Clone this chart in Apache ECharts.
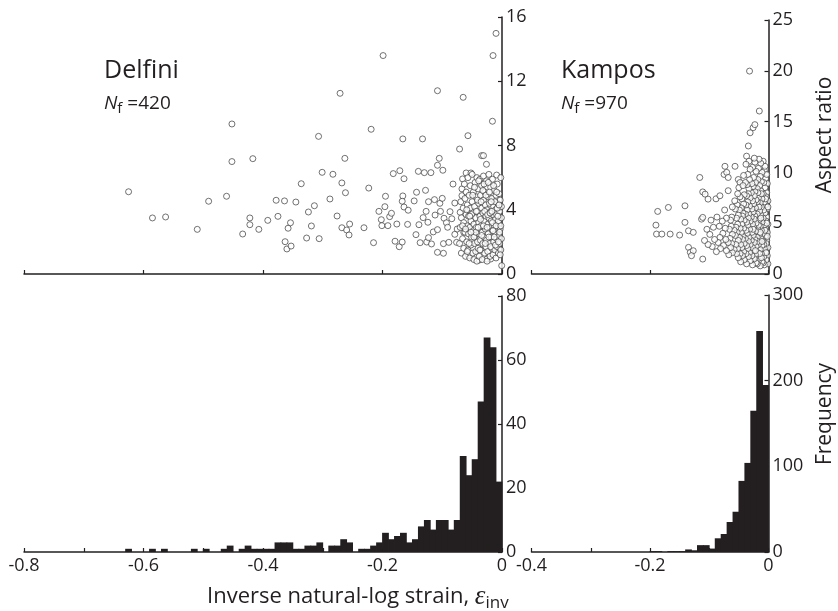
<!DOCTYPE html>
<html><head><meta charset="utf-8">
<script src="https://cdn.jsdelivr.net/npm/echarts@6/dist/echarts.min.js"></script>
<style>html,body{margin:0;padding:0;background:#fff}#c{width:838px;height:611px}</style>
</head><body><div id="c"></div><script>
// ---------- data ----------
const BIN_WIDTH = 0.01;
const delfiniBinStart = -0.8;
const kamposBinStart = -0.4;
const delfiniCounts = [
 0,0,0,0,0,0,0,0,0,0,
 0,0,0,0,0,0,0,1,0,0,
 0,1,0,1,0,0,0,0,1,0,
 1,0,0,1,2,0,1,2,1,1,
 1,1,3,3,3,1,1,2,2,3,
 0,2,2,4,3,0,1,1,2,3,
 6,4,5,6,3,4,8,10,7,10,
 10,7,10,30,24,29,47,67,64,22];
const kamposCounts = [
 0,0,0,0,0,0,0,0,0,0,
 0,0,0,0,0,0,0,0,0,0,
 1,1,0,1,1,1,3,2,8,8,
 4,16,21,35,47,83,104,165,258,195];

const delfiniSparse = [[-0.625,5.12],[-0.585,3.49],[-0.563,3.55],[-0.510,2.78],[-0.491,4.53],[-0.461,4.84],[-0.452,9.34],[-0.452,7.0],[-0.417,7.18],[-0.422,3.49],[-0.422,3.07],[-0.434,2.49],[-0.407,2.78],[-0.378,4.59],[-0.375,3.59],[-0.392,3.34],
[-0.364,4.55],[-0.358,2.85],[-0.354,3.19],[-0.363,2.01],[-0.360,1.56],[-0.353,1.74],[-0.345,4.48],[-0.336,5.62],[-0.327,2.24],[-0.324,3.86],[-0.319,2.99],[-0.314,4.25],[-0.307,8.57],[-0.306,2.2],[-0.301,6.33],[-0.288,4.67],[-0.283,6.21],[-0.276,3.61],[-0.271,11.25],[-0.268,5.67],[-0.268,2.88],[-0.263,7.2],[-0.262,5.06],[-0.260,2.74],[-0.256,2.43],[-0.255,3.11],[-0.231,2.88],[-0.223,5.35],[-0.219,9.01],[-0.215,1.95],[-0.206,3.9],[-0.202,3.38],[-0.201,3.01],[-0.199,13.6],[-0.196,4.19],[-0.195,4.84],[-0.191,3.01],[-0.188,3.57],[-0.185,3.78],[-0.182,6.25],[-0.179,2.04],[-0.176,3.11],[-0.172,1.7],[-0.171,6.43],[-0.167,1.99],[-0.166,4.86],[-0.166,8.41],[-0.164,5.93],[-0.167,4.53],[-0.164,4.17],[-0.157,3.97],[-0.158,3.09],[-0.147,4.55],[-0.144,2.45],[-0.143,5.09],[-0.140,6.39],[-0.139,3.07],[-0.137,1.95],[-0.133,8.41],[-0.132,3.51],[-0.130,6.31],[-0.128,5.21],[-0.127,3.9],[-0.126,1.99],[-0.124,3.22],[-0.123,4.5],[-0.123,2.26],[-0.119,6.31],[-0.118,1.87],[-0.115,2.62],[-0.113,4.63],[-0.112,3.67],[-0.108,11.41],[-0.108,6.77],[-0.108,2.76],[-0.108,1.35],[-0.105,7.2],[-0.104,4.4],[-0.103,3.9],[-0.100,4.71],[-0.099,6.46],[-0.098,1.89],[-0.098,1.29],[-0.097,3.47],[-0.093,3.19],[-0.091,2.91],[-0.089,1.97],[-0.087,3.88],[-0.084,3.44],[-0.082,5.6],[-0.079,4.42],[-0.079,2.47],[-0.076,1.97],[-0.075,2.8],[-0.071,7.78],[-0.070,3.84],[-0.067,4.88],[-0.066,5.92],[-0.065,11.0],[-0.064,2.6],[-0.060,6.29],[-0.057,8.61],[-0.056,1.14],[-0.052,6.29],[-0.038,0.87],[-0.034,7.37],[-0.031,7.37],[-0.026,6.83],[-0.025,0.93],[-0.019,0.93],[-0.016,9.51],[-0.015,13.6],[-0.010,14.98],[-0.009,6.16],[-0.0005,0.52]];

const delfiniCluster = [[-.071,1.9],[-.070,2.9],[-.069,4.5],[-.068,1.3],[-.068,3.5],[-.067,5.3],[-.066,2.2],[-.065,4.1],[-.064,1.6],[-.064,3.2],[-.063,5.6],[-.062,2.6],[-.062,4.7],[-.061,1.1],[-.060,3.7],[-.060,5.1],[-.059,2.0],[-.058,3.0],[-.058,4.3],[-.057,1.5],[-.057,6.0],[-.056,2.5],[-.056,3.6],[-.055,4.9],[-.054,1.0],[-.054,2.9],[-.053,4.1],[-.053,5.5],[-.052,1.8],[-.052,3.3],[-.051,2.3],[-.050,4.5],[-.050,6.2],[-.049,1.3],[-.049,3.8],[-.048,2.7],[-.048,5.1],[-.047,0.9],[-.047,3.1],[-.046,1.9],[-.046,4.2],[-.045,5.7],[-.045,2.4],[-.044,3.5],[-.044,1.4],[-.043,4.8],[-.043,2.9],[-.042,6.0],[-.042,0.8],[-.041,2.0],[-.041,3.9],[-.040,5.3],[-.040,1.6],[-.039,3.2],[-.039,4.4],[-.038,2.5],[-.038,1.1],[-.037,5.9],[-.037,3.6],[-.036,2.1],[-.036,4.9],[-.035,1.5],[-.035,3.0],[-.034,4.1],[-.034,5.5],[-.033,2.6],[-.033,0.9],[-.032,3.8],[-.032,1.9],[-.031,4.6],[-.031,6.1],[-.030,2.3],[-.030,3.3],[-.029,1.3],[-.029,5.1],[-.028,2.8],[-.028,4.3],[-.027,1.7],[-.027,3.6],[-.026,5.8],[-.026,2.1],[-.025,4.0],[-.025,0.8],[-.024,3.1],[-.024,1.4],[-.023,4.8],[-.023,2.5],[-.022,3.5],[-.022,6.2],[-.021,1.9],[-.021,4.4],[-.020,2.9],[-.020,1.1],[-.019,5.4],[-.019,3.9],[-.018,2.3],[-.018,3.3],[-.017,1.6],[-.017,4.7],[-.016,2.7],[-.016,5.9],[-.015,1.2],[-.015,3.7],[-.014,4.2],[-.014,2.0],[-.013,3.0],[-.013,5.2],[-.012,1.5],[-.012,2.5],[-.011,4.0],[-.011,3.4],[-.010,1.0],[-.010,4.9],[-.009,2.2],[-.009,3.7],[-.008,5.6],[-.008,1.7],[-.007,2.9],[-.007,4.4],[-.006,1.3],[-.006,3.3],[-.005,2.4],[-.005,5.0],[-.004,3.9],[-.004,1.9],[-.003,4.6],[-.003,2.8],[-.002,6.0],[-.002,1.5],[-.001,3.5],[-.001,2.2],[-.001,4.2],
[-.066,3.0],[-.061,2.8],[-.059,4.0],[-.055,1.9],[-.051,3.7],[-.047,2.3],[-.044,2.6],[-.040,2.9],[-.037,1.5],[-.034,2.4],[-.031,3.0],[-.028,1.9],[-.025,2.9],[-.022,2.3],[-.019,1.7],[-.016,3.2],[-.013,2.3],[-.010,3.0],[-.007,3.6],[-.004,2.6],[-.002,3.0],[-.052,2.6],[-.043,3.9],[-.036,3.4],[-.029,3.9],[-.024,3.7],[-.020,3.8],[-.015,2.7],[-.011,1.8],[-.006,2.0],[-.003,1.2],[-.058,1.4],[-.049,4.9],[-.039,5.8],[-.032,5.2],[-.027,4.9],[-.021,5.1],[-.017,3.9],[-.012,4.5],[-.008,4.1],[-.054,3.6],[-.046,5.4],[-.041,4.6],[-.035,4.5],[-.030,5.6],[-.023,5.7],[-.018,4.5],[-.014,5.5],[-.009,5.1],[-.005,4.3]];

const kamposSparse = [[-0.190,4.81],[-0.187,6.16],[-0.169,6.55],[-0.189,3.93],[-0.180,3.93],[-0.166,3.93],[-0.150,3.83],[-0.141,6.71],[-0.141,5.08],[-0.135,4.25],[-0.127,4.1],[-0.135,2.62],[-0.132,2.13],[-0.127,2.29],[-0.130,1.8],[-0.116,9.5],[-0.113,5.4],[-0.111,5.57],[-0.111,8.08],[-0.107,7.86],[-0.102,7.37],[-0.111,1.47],[-0.0886,7.4],[-0.082,7.7],[-0.0735,10.6],[-0.075,9.8],[-0.0705,10.0],[-0.068,9.5],[-0.0565,10.6],[-0.068,8.2],[-0.051,9.3],[-0.048,9.0],[-0.050,8.5],[-0.032,19.97],[-0.0155,16.04],[-0.026,14.4],[-0.023,14.7],[-0.031,13.9],[-0.034,12.6],[-0.037,11.6]];

const kamposCluster = [
[-.001,1.0],[-.002,1.8],[-.001,2.6],[-.003,3.3],[-.002,4.1],[-.001,4.9],[-.003,5.6],[-.002,6.4],[-.001,7.2],[-.003,8.0],[-.002,8.9],[-.004,1.4],[-.005,2.2],[-.004,3.0],[-.006,3.7],[-.005,4.5],[-.004,5.2],[-.006,6.0],[-.005,6.8],[-.004,7.6],[-.006,8.5],[-.005,9.4],[-.007,0.9],[-.008,1.7],[-.007,2.5],[-.009,3.2],[-.008,4.0],[-.007,4.8],[-.009,5.5],[-.008,6.3],[-.007,7.1],[-.009,7.9],[-.008,9.0],[-.007,10.2],[-.009,11.1],[-.003,9.8],[-.006,10.6],[-.001,6.6],[-.004,2.1],[-.008,2.9],[-.002,3.7],[-.006,4.3],[-.009,1.1],[-.003,5.0],[-.005,7.4],
[-.011,1.2],[-.012,2.0],[-.011,2.8],[-.013,3.5],[-.012,4.3],[-.011,5.1],[-.013,5.8],[-.012,6.6],[-.011,7.4],[-.013,8.2],[-.012,9.1],[-.011,10.0],[-.013,10.9],[-.014,0.8],[-.015,1.6],[-.014,2.4],[-.016,3.1],[-.015,3.9],[-.014,4.7],[-.016,5.4],[-.015,6.2],[-.014,7.0],[-.016,7.8],[-.015,8.7],[-.014,9.6],[-.016,11.3],[-.017,1.3],[-.018,2.1],[-.017,2.9],[-.019,3.6],[-.018,4.4],[-.017,5.2],[-.019,5.9],[-.018,6.7],[-.017,7.5],[-.019,8.4],[-.018,9.3],[-.017,10.4],[-.019,1.0],[-.012,1.6],[-.015,2.0],[-.018,3.2],[-.011,3.2],[-.014,4.1],[-.017,4.8],[-.013,5.5],[-.016,6.6],[-.019,7.1],[-.012,7.9],[-.018,8.0],
[-.021,1.1],[-.022,1.9],[-.021,2.7],[-.023,3.4],[-.022,4.2],[-.021,5.0],[-.023,5.7],[-.022,6.5],[-.021,7.3],[-.023,8.1],[-.022,9.0],[-.021,10.1],[-.023,11.0],[-.024,1.5],[-.025,2.3],[-.024,3.1],[-.026,3.8],[-.025,4.6],[-.024,5.4],[-.026,6.1],[-.025,6.9],[-.024,7.7],[-.026,8.6],[-.025,9.5],[-.024,11.4],[-.027,0.9],[-.028,1.8],[-.027,2.6],[-.029,3.3],[-.028,4.1],[-.027,4.9],[-.029,5.6],[-.028,6.4],[-.027,7.2],[-.029,8.0],[-.028,8.9],[-.027,10.5],[-.022,2.3],[-.026,4.4],
[-.031,1.3],[-.032,2.1],[-.031,2.9],[-.033,3.6],[-.032,4.4],[-.031,5.2],[-.033,5.9],[-.032,6.7],[-.031,7.5],[-.033,8.4],[-.032,9.3],[-.031,10.3],[-.033,11.1],[-.034,1.7],[-.035,2.5],[-.034,3.2],[-.036,4.0],[-.035,4.8],[-.034,5.5],[-.036,6.3],[-.035,7.1],[-.034,7.9],[-.036,8.8],[-.035,9.8],[-.037,1.0],[-.038,2.0],[-.037,2.8],[-.039,3.5],[-.038,4.3],[-.037,5.1],[-.039,5.9],[-.038,6.8],[-.037,7.7],[-.039,9.0],[-.038,10.8],
[-.041,1.4],[-.042,2.2],[-.041,3.0],[-.043,3.7],[-.042,4.5],[-.041,5.3],[-.043,6.0],[-.042,6.9],[-.041,7.8],[-.043,8.7],[-.042,9.7],[-.044,1.8],[-.045,2.6],[-.044,3.4],[-.046,4.1],[-.045,4.9],[-.044,5.7],[-.046,6.5],[-.045,7.4],[-.047,1.2],[-.048,2.0],[-.047,2.9],[-.049,3.6],[-.048,4.5],[-.047,5.4],[-.049,6.3],[-.048,7.6],
[-.051,1.6],[-.052,2.5],[-.051,3.3],[-.053,4.1],[-.052,4.9],[-.051,5.8],[-.053,6.8],[-.052,7.9],[-.054,2.0],[-.055,2.9],[-.056,3.8],[-.055,4.6],[-.054,5.5],[-.056,6.4],[-.058,2.4],[-.058,4.3],[-.057,7.2],
[-.061,2.1],[-.062,3.0],[-.061,3.9],[-.063,4.7],[-.062,5.6],[-.061,6.6],[-.064,2.6],[-.065,3.5],[-.066,4.4],[-.064,5.3],[-.067,1.9],[-.068,3.1],
[-.071,2.3],[-.072,3.4],[-.073,4.5],[-.071,5.5],[-.074,6.3],[-.076,2.8],[-.077,4.0],[-.078,5.2],
[-.081,2.5],[-.082,3.6],[-.083,4.7],[-.085,3.1],[-.087,5.6],[-.088,2.2],
[-.091,3.4],[-.093,4.6],[-.095,2.7],[-.097,5.3],[-.099,3.9],[-.102,2.9],[-.104,4.4],[-.108,3.3]];

const delfiniXLabels = [-0.8,-0.6,-0.4,-0.2,0];
const kamposXLabels = [-0.4,-0.2,0];

// ---------- chart ----------
const INK = '#231f20';
const FONT = '"Open Sans", "Noto Sans", sans-serif';

function bins(start, counts){
  return counts.map((c,i)=>[+(start+i*BIN_WIDTH).toFixed(3), +(start+(i+1)*BIN_WIDTH).toFixed(3), c]);
}
function histItem(params, api){
  const c = api.value(2);
  if (!c) return null;
  const p0 = api.coord([api.value(0), c]);
  const p1 = api.coord([api.value(1), 0]);
  return {type:'rect', shape:{x:p0[0]-0.4, y:p0[1], width:p1[0]-p0[0]+0.8, height:p1[1]-p0[1]},
    style:{fill:INK, stroke:null}};
}
function xFmt(list){
  return function(v){
    const hit = list.some(t=>Math.abs(t-v)<1e-6);
    if(!hit) return '';
    return Math.abs(v)<1e-9 ? '0' : v.toFixed(1);
  };
}
const axisLine = {show:true, onZero:false, lineStyle:{color:INK, width:1.5}};
const axisTick = {show:true, inside:true, length:4, lineStyle:{color:INK, width:1.2}};
const lbl = {color:INK, fontSize:18, fontFamily:FONT};

function xAx(gi, min, interval, labels){
  return {gridIndex:gi, type:'value', min:min, max:0, interval:interval, position:'bottom',
    axisLine:axisLine, axisTick:axisTick, splitLine:{show:false},
    axisLabel: labels ? Object.assign({margin:5, formatter:xFmt(labels), showMinLabel:true, showMaxLabel:true}, lbl) : {show:false}};
}
function yAx(gi, max, interval){
  return {gridIndex:gi, type:'value', min:0, max:max, interval:interval, position:'right',
    axisLine:axisLine, axisTick:axisTick, splitLine:{show:false},
    axisLabel: Object.assign({margin:4, showMinLabel:true, showMaxLabel:true}, lbl)};
}
const scatterStyle = {color:'#ffffff', borderColor:'#3c3c3c', borderWidth:0.9};

const option = {
  animation:false,
  backgroundColor:'#ffffff',
  textStyle:{fontFamily:FONT},
  grid:[
    {left:24, top:17, width:478, height:257, outerBoundsMode:'none'},
    {left:531.5, top:20, width:237, height:254, outerBoundsMode:'none'},
    {left:24, top:296, width:478, height:256, outerBoundsMode:'none'},
    {left:531.5, top:295, width:237, height:257, outerBoundsMode:'none'}
  ],
  xAxis:[ xAx(0,-0.8,0.2,null), xAx(1,-0.4,0.2,null), xAx(2,-0.8,0.1,delfiniXLabels), xAx(3,-0.4,0.1,kamposXLabels) ],
  yAxis:[ yAx(0,16,4), yAx(1,25,5), yAx(2,80,20), yAx(3,300,100) ],
  series:[
    {type:'scatter', xAxisIndex:0, yAxisIndex:0, data:delfiniSparse.concat(delfiniCluster), symbol:'circle', symbolSize:6, itemStyle:scatterStyle, silent:true},
    {type:'scatter', xAxisIndex:1, yAxisIndex:1, data:kamposSparse.concat(kamposCluster), symbol:'circle', symbolSize:6, itemStyle:scatterStyle, silent:true},
    {type:'custom', xAxisIndex:2, yAxisIndex:2, data:bins(delfiniBinStart, delfiniCounts), renderItem:histItem, encode:{x:[0,1], y:2}, silent:true},
    {type:'custom', xAxisIndex:3, yAxisIndex:3, data:bins(kamposBinStart, kamposCounts), renderItem:histItem, encode:{x:[0,1], y:2}, silent:true}
  ],
  graphic:[
    {type:'text', left:104, top:58, style:{text:'Delfini', fill:INK, font:'25px '+FONT}},
    {type:'text', left:104, top:94, style:{text:'{n|N}{f|f}{t| =420}', fill:INK,
      rich:{n:{fontSize:19, fontStyle:'italic', fontFamily:FONT, lineHeight:26, fill:INK},
            f:{fontSize:15, fontFamily:FONT, lineHeight:16, verticalAlign:'bottom', fill:INK},
            t:{fontSize:19, fontFamily:FONT, lineHeight:26, fill:INK}}}},
    {type:'text', left:561, top:58, style:{text:'Kampos', fill:INK, font:'25px '+FONT}},
    {type:'text', left:561, top:94, style:{text:'{n|N}{f|f}{t| =970}', fill:INK,
      rich:{n:{fontSize:19, fontStyle:'italic', fontFamily:FONT, lineHeight:26, fill:INK},
            f:{fontSize:15, fontFamily:FONT, lineHeight:16, verticalAlign:'bottom', fill:INK},
            t:{fontSize:19, fontFamily:FONT, lineHeight:26, fill:INK}}}},
    {type:'text', x:825, y:135, rotation:Math.PI/2, style:{text:'Aspect ratio', fill:INK, font:'21px '+FONT, align:'center', verticalAlign:'middle'}},
    {type:'text', x:825, y:414, rotation:Math.PI/2, style:{text:'Frequency', fill:INK, font:'21px '+FONT, align:'center', verticalAlign:'middle'}},
    {type:'text', x:207, y:597, style:{text:'{a|Inverse natural-log strain, }{e|ε}{s|inv}', align:'left', verticalAlign:'middle', fill:INK,
      rich:{a:{fontSize:22, fontFamily:FONT, lineHeight:30, fill:INK},
            e:{fontSize:27, fontFamily:'"Liberation Serif", serif', fontStyle:'italic', lineHeight:30, fill:INK},
            s:{fontSize:17, fontFamily:FONT, lineHeight:18, verticalAlign:'bottom', fill:INK}}}}
  ]
};
const chart = echarts.init(document.getElementById('c'), null, {renderer:'canvas'});
chart.setOption(option);
</script></body></html>
